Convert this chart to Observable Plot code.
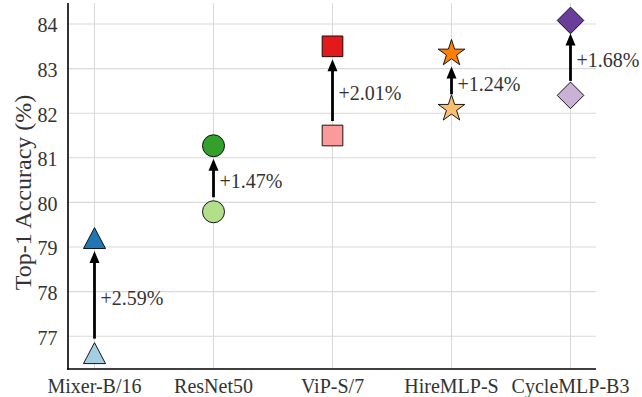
<!DOCTYPE html>
<html>
<head>
<meta charset="utf-8">
<script src="https://cdn.jsdelivr.net/npm/d3@7"></script>
<script src="https://cdn.jsdelivr.net/npm/@observablehq/plot@0.6"></script>
<style>
  html, body { margin: 0; padding: 0; background: #fff; }
  #chart { width: 642px; height: 397px; }
</style>
</head>
<body>
<div id="chart"></div>
<script>
// ---- data ----
const models = ["Mixer-B/16", "ResNet50", "ViP-S/7", "HireMLP-S", "CycleMLP-B3"];
const baseAcc = [76.62, 79.79, 81.50, 82.10, 82.40];
const improvedAcc = [79.20, 81.27, 83.50, 83.34, 84.08];
const gains = ["2.59", "1.47", "2.01", "1.24", "1.68"];
const shapes = ["triangle", "circle", "square", "star", "diamond"];
const baseColors = ["#a6cee3", "#b2df8a", "#fb9a99", "#fdbf6f", "#cab2d6"];
const improvedColors = ["#1f78b4", "#33a02c", "#e31a1c", "#ff7f00", "#6a3d9a"];
const yTicks = [77, 78, 79, 80, 81, 82, 83, 84];

const rows = models.map((m, i) => ({
  model: m, base: baseAcc[i], improved: improvedAcc[i], gain: gains[i],
  shape: shapes[i], baseColor: baseColors[i], improvedColor: improvedColors[i]
}));

// ---- matplotlib-like marker shapes (scaled from Plot's r) ----
const unit = size => Math.sqrt(size / Math.PI);
const SYMBOLS = {
  circle: { draw(c, size) { const s = unit(size); c.moveTo(s, 0); c.arc(0, 0, s, 0, 2 * Math.PI); c.closePath(); } },
  square: { draw(c, size) { const h = unit(size) * 0.94; c.moveTo(-h, -h); c.lineTo(h, -h); c.lineTo(h, h); c.lineTo(-h, h); c.closePath(); } },
  triangle: { draw(c, size) { const s = unit(size); const w = s * 1.0, v = s * 0.95; c.moveTo(0, -v); c.lineTo(w, v); c.lineTo(-w, v); c.closePath(); } },
  diamond: { draw(c, size) { const d = unit(size) * 1.21; c.moveTo(0, -d); c.lineTo(d, 0); c.lineTo(0, d); c.lineTo(-d, 0); c.closePath(); } },
  star: { draw(c, size) {
    const R = unit(size) * 1.27, r = R * 0.381966;
    for (let k = 0; k < 10; k++) {
      const rad = k % 2 === 0 ? R : r;
      const a = -Math.PI / 2 + k * Math.PI / 5;
      const x = rad * Math.cos(a), y = rad * Math.sin(a);
      if (k === 0) c.moveTo(x, y); else c.lineTo(x, y);
    }
    c.closePath();
  } }
};
// arrow head with its tip at the origin, pointing up
const HEAD = { draw(c) { c.moveTo(0, 0); c.lineTo(5, 12); c.lineTo(-5, 12); c.closePath(); } };

const font = "'Liberation Serif', 'Times New Roman', Times, serif";

const spines = (index, scales, values, dims) => {
  const g = d3.create("svg:g").attr("stroke", "#000").attr("stroke-width", 1.6);
  const x0 = dims.marginLeft, x1 = dims.width - dims.marginRight;
  const y0 = dims.marginTop, y1 = dims.height - dims.marginBottom;
  g.append("line").attr("x1", x0).attr("x2", x0).attr("y1", y0).attr("y2", y1 + 0.8);
  g.append("line").attr("x1", x0 - 0.8).attr("x2", x1).attr("y1", y1).attr("y2", y1);
  return g.node();
};

const chart = Plot.plot({
  width: 642,
  height: 397,
  marginLeft: 68,
  marginRight: 46,
  marginTop: 3,
  marginBottom: 28,
  style: { fontFamily: font, fontSize: "20px", color: "#333", background: "#fff", overflow: "visible" },
  x: { type: "point", domain: models, padding: 0.2, label: null },
  y: { domain: [76.253, 84.46], label: null },
  marks: [
    Plot.gridX(models, { stroke: "#d9d9d9", strokeOpacity: 1, strokeWidth: 1.1 }),
    Plot.gridY(yTicks, { stroke: "#d9d9d9", strokeOpacity: 1, strokeWidth: 1.1 }),
    Plot.axisX({ tickSize: 0, tickPadding: 9, label: null, fontSize: 20 }),
    Plot.axisY(yTicks, { tickSize: 0, tickPadding: 11, label: null, fontSize: 20, dy: 2 }),
    Plot.text(["Top-1 Accuracy (%)"], { frameAnchor: "left", textAnchor: "middle", rotate: -90, dx: -45, dy: 6, fontSize: 24, fill: "#333" }),
    spines,
    // arrow shafts (from the lower marker up to the head)
    Plot.ruleX(rows, { x: "model", y1: "improved", y2: "base", insetTop: 24, insetBottom: 14, stroke: "#000", strokeWidth: 2.8 }),
    // arrow heads
    Plot.dot(rows, { x: "model", y: "improved", symbol: HEAD, r: 5, fill: "#000", stroke: "none", dy: 13 }),
    // markers
    Plot.dot(rows, { x: "model", y: "base", symbol: d => SYMBOLS[d.shape], r: 11, fill: "baseColor", stroke: "#000", strokeWidth: 0.9 }),
    Plot.dot(rows, { x: "model", y: "improved", symbol: d => SYMBOLS[d.shape], r: 11, fill: "improvedColor", stroke: "#000", strokeWidth: 0.9 }),
    // gain labels
    Plot.text(rows, { x: "model", y: d => (d.base + d.improved) / 2, text: d => "+" + d.gain + "%", textAnchor: "start", dx: 6, dy: 3, fontSize: 20, fill: "#333" })
  ]
});
document.getElementById("chart").appendChild(chart);
</script>
</body>
</html>
